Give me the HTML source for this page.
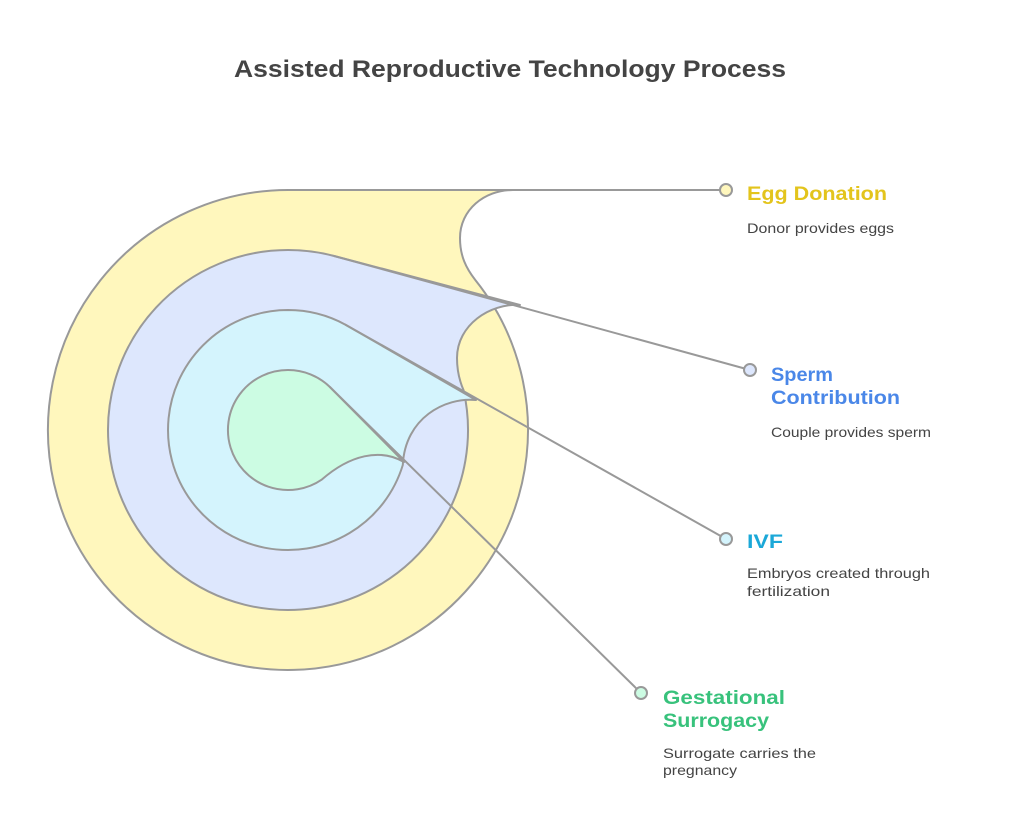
<!DOCTYPE html>
<html>
<head>
<meta charset="utf-8">
<style>
  html, body { margin: 0; padding: 0; background: #ffffff; }
  svg { display: block; }
  .h { font-family: "Liberation Sans", sans-serif; font-weight: bold; font-size: 19px; }
  .d { font-family: "Liberation Sans", sans-serif; font-size: 14px; fill: #444444; }
</style>
</head>
<body>
<svg width="1020" height="828" viewBox="0 0 1020 828" xmlns="http://www.w3.org/2000/svg">
  <rect x="0" y="0" width="1020" height="828" fill="#ffffff"/>

  <!-- Title -->
  <text x="510" y="77" text-anchor="middle" font-family="Liberation Sans, sans-serif" font-weight="bold" font-size="24" fill="#444444" textLength="552" lengthAdjust="spacingAndGlyphs">Assisted Reproductive Technology Process</text>

  <g stroke="#999999" stroke-width="2" stroke-linejoin="round">
    <!-- Yellow (Egg Donation) -->
    <path d="M288,190 L513,190 C484,190 460,210 460,238 C460,256 466,268 475.3,280 A240,240 0 1,1 288,190 Z" fill="#fff7bd"/>
    <!-- Blue (Sperm) -->
    <path d="M288,250 A180,180 0 0,1 334.6,256.1 L520,305 C490,303 457,325 457,358 C457,372 460,382 463.5,390 A180,180 0 1,1 288,250 Z" fill="#dde7fd"/>
    <!-- Cyan (IVF) -->
    <path d="M288,310 A120,120 0 0,1 345.5,324.7 L476,400 C445,397 405,418 402.8,465 A120,120 0 1,1 288,310 Z" fill="#d4f4fd"/>
    <!-- Green (Gestational) -->
    <path d="M288,370 A60,60 0 0,1 329.9,387 L404,462 C380,448 350,455 322,479.4 A60,60 0 1,1 288,370 Z" fill="#ccfce3"/>
  </g>

  <!-- Connectors -->
  <g stroke="#999999" stroke-width="2" fill="none" stroke-linecap="round">
    <line x1="288" y1="190" x2="726" y2="190"/>
    <line x1="334.6" y1="256.1" x2="750" y2="370"/>
    <line x1="345.5" y1="324.7" x2="726" y2="539"/>
    <line x1="329.9" y1="387" x2="641" y2="693"/>
  </g>

  <!-- Dots -->
  <g stroke="#999999" stroke-width="2">
    <circle cx="726" cy="190" r="6" fill="#fff7bd"/>
    <circle cx="750" cy="370" r="6" fill="#dde7fd"/>
    <circle cx="726" cy="539" r="6" fill="#d4f4fd"/>
    <circle cx="641" cy="693" r="6" fill="#ccfce3"/>
  </g>

  <!-- Labels -->
  <text class="h" x="747" y="200" fill="#e3c41c" textLength="140" lengthAdjust="spacingAndGlyphs">Egg Donation</text>
  <text class="d" x="747" y="233" textLength="147" lengthAdjust="spacingAndGlyphs">Donor provides eggs</text>

  <text class="h" x="771" y="381" fill="#4a87e8" textLength="62" lengthAdjust="spacingAndGlyphs">Sperm</text>
  <text class="h" x="771" y="404" fill="#4a87e8" textLength="129" lengthAdjust="spacingAndGlyphs">Contribution</text>
  <text class="d" x="771" y="437" textLength="160" lengthAdjust="spacingAndGlyphs">Couple provides sperm</text>

  <text class="h" x="747" y="548" fill="#1ba8d8" textLength="36" lengthAdjust="spacingAndGlyphs">IVF</text>
  <text class="d" x="747" y="578" textLength="183" lengthAdjust="spacingAndGlyphs">Embryos created through</text>
  <text class="d" x="747" y="596" textLength="83" lengthAdjust="spacingAndGlyphs">fertilization</text>

  <text class="h" x="663" y="704" fill="#38c27c" textLength="122" lengthAdjust="spacingAndGlyphs">Gestational</text>
  <text class="h" x="663" y="727" fill="#38c27c" textLength="106" lengthAdjust="spacingAndGlyphs">Surrogacy</text>
  <text class="d" x="663" y="758" textLength="153" lengthAdjust="spacingAndGlyphs">Surrogate carries the</text>
  <text class="d" x="663" y="775" textLength="74" lengthAdjust="spacingAndGlyphs">pregnancy</text>
</svg>
</body>
</html>
